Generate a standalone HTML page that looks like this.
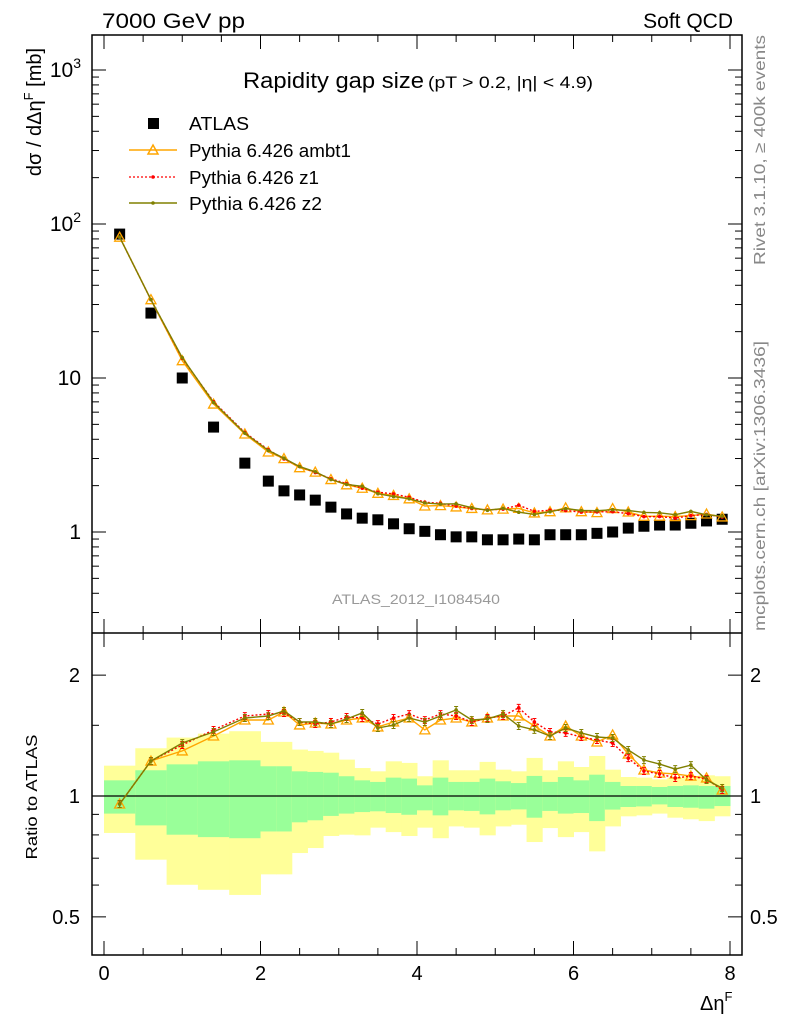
<!DOCTYPE html>
<html><head><meta charset="utf-8">
<style>
html,body{margin:0;padding:0;background:#fff;}
svg{display:block;font-family:"Liberation Sans",sans-serif;}
</style></head>
<body>
<svg id="chart" width="786" height="1024" viewBox="0 0 786 1024" xmlns="http://www.w3.org/2000/svg">
<g id="bands"></g>
<g id="main"></g>
<g id="ratio"></g>
<g id="axes"></g>
<text x="102" y="28" font-size="21" textLength="143" lengthAdjust="spacingAndGlyphs">7000 GeV pp</text>
<text x="733" y="28" font-size="21" text-anchor="end">Soft QCD</text>
<text x="243" y="88" font-size="22" textLength="181" lengthAdjust="spacingAndGlyphs">Rapidity gap size</text>
<text x="428" y="88" font-size="17" textLength="165" lengthAdjust="spacingAndGlyphs">(pT &gt; 0.2, |η| &lt; 4.9)</text>
<text x="416" y="604" font-size="14" fill="#999" text-anchor="middle" textLength="168" lengthAdjust="spacingAndGlyphs">ATLAS_2012_I1084540</text>
<text transform="translate(765,150) rotate(-90)" font-size="16" fill="#888" text-anchor="middle" textLength="230" lengthAdjust="spacingAndGlyphs">Rivet 3.1.10, ≥ 400k events</text>
<text transform="translate(765,486) rotate(-90)" font-size="16" fill="#888" text-anchor="middle" textLength="290" lengthAdjust="spacingAndGlyphs">mcplots.cern.ch [arXiv:1306.3436]</text>
<text transform="translate(41,112) rotate(-90)" font-size="20" text-anchor="middle">dσ / dΔη<tspan font-size="13" dy="-8">F</tspan><tspan dy="8"> [mb]</tspan></text>
<text transform="translate(37,797) rotate(-90)" font-size="16" text-anchor="middle" textLength="125" lengthAdjust="spacingAndGlyphs">Ratio to ATLAS</text>
<text x="700" y="1010" font-size="20">Δη<tspan font-size="13" dy="-9">F</tspan></text>
<g id="legend">
<rect x="148" y="118" width="11" height="11" fill="#000"/>
<text x="189" y="130" font-size="18" textLength="60" lengthAdjust="spacingAndGlyphs">ATLAS</text>
<line x1="129" y1="150" x2="177" y2="150" stroke="#FFA500" stroke-width="1.5"/>
<path d="M153 145 L158 154 L148 154 Z" fill="none" stroke="#FFA500" stroke-width="1.5"/>
<text x="189" y="157" font-size="18" textLength="162" lengthAdjust="spacingAndGlyphs">Pythia 6.426 ambt1</text>
<line x1="129" y1="177" x2="177" y2="177" stroke="#ff0000" stroke-width="1.3" stroke-dasharray="2,2"/>
<circle cx="153" cy="177" r="1.8" fill="#ff0000"/>
<text x="189" y="184" font-size="18" textLength="130" lengthAdjust="spacingAndGlyphs">Pythia 6.426 z1</text>
<line x1="129" y1="203" x2="177" y2="203" stroke="#808000" stroke-width="1.5"/>
<circle cx="153" cy="203" r="1.8" fill="#808000"/>
<text x="189" y="210" font-size="18" textLength="133" lengthAdjust="spacingAndGlyphs">Pythia 6.426 z2</text>
</g>
</svg>
<script>
const xs = [0.2,0.6,1.0,1.4,1.8,2.1,2.3,2.5,2.7,2.9,3.1,3.3,3.5,3.7,3.9,4.1,4.3,4.5,4.7,4.9,5.1,5.3,5.5,5.7,5.9,6.1,6.3,6.5,6.7,6.9,7.1,7.3,7.5,7.7,7.9];
const binEdges = [0,0.4,0.8,1.2,1.6,2.0,2.2,2.4,2.6,2.8,3.0,3.2,3.4,3.6,3.8,4.0,4.2,4.4,4.6,4.8,5.0,5.2,5.4,5.6,5.8,6.0,6.2,6.4,6.6,6.8,7.0,7.2,7.4,7.6,7.8,8.0];
const atlas = [86,26.4,10,4.8,2.8,2.14,1.85,1.74,1.61,1.45,1.31,1.23,1.2,1.13,1.05,1.01,0.96,0.93,0.93,0.89,0.89,0.90,0.89,0.96,0.96,0.96,0.98,1.0,1.06,1.09,1.11,1.11,1.14,1.18,1.21];
const ratioAmbt1 = [0.955,1.222,1.295,1.411,1.546,1.546,1.619,1.503,1.520,1.511,1.546,1.564,1.486,1.529,1.564,1.461,1.546,1.564,1.529,1.564,1.582,1.582,1.494,1.411,1.494,1.411,1.363,1.419,1.272,1.161,1.141,1.135,1.121,1.109,1.035];
const ratioZ1 = [0.955,1.222,1.34,1.461,1.582,1.600,1.610,1.529,1.511,1.529,1.573,1.564,1.511,1.564,1.600,1.546,1.600,1.582,1.529,1.564,1.582,1.658,1.529,1.444,1.436,1.403,1.379,1.355,1.243,1.154,1.135,1.109,1.121,1.102,1.035];
const ratioZ2 = [0.955,1.222,1.355,1.444,1.564,1.582,1.629,1.529,1.529,1.511,1.555,1.610,1.477,1.503,1.564,1.529,1.582,1.638,1.546,1.555,1.600,1.494,1.461,1.411,1.477,1.436,1.403,1.395,1.302,1.229,1.201,1.167,1.194,1.096,1.047];
const yellowHi = [1.19,1.315,1.398,1.43,1.45,1.364,1.364,1.305,1.295,1.282,1.232,1.174,1.152,1.22,1.209,1.12,1.227,1.159,1.159,1.216,1.163,1.152,1.244,1.159,1.22,1.181,1.258,1.163,1.115,1.111,1.1,1.111,1.122,1.126,1.12];
const greenHi = [1.094,1.159,1.199,1.22,1.227,1.186,1.186,1.152,1.148,1.143,1.12,1.094,1.084,1.111,1.105,1.063,1.111,1.084,1.084,1.105,1.088,1.077,1.122,1.084,1.115,1.094,1.13,1.084,1.059,1.059,1.053,1.059,1.063,1.059,1.059];
const greenLo = [0.904,0.845,0.801,0.79,0.785,0.816,0.816,0.86,0.87,0.892,0.904,0.912,0.916,0.907,0.898,0.921,0.895,0.921,0.918,0.9,0.921,0.926,0.883,0.918,0.904,0.907,0.866,0.925,0.939,0.942,0.953,0.939,0.935,0.93,0.944];
const yellowLo = [0.809,0.694,0.601,0.584,0.567,0.638,0.638,0.721,0.742,0.795,0.801,0.798,0.834,0.813,0.795,0.834,0.785,0.84,0.834,0.798,0.84,0.848,0.768,0.832,0.79,0.813,0.728,0.84,0.89,0.895,0.904,0.883,0.875,0.866,0.89];
const mcErr = 0.02;

const NS="http://www.w3.org/2000/svg";
const L=92,R=742,T=35,MB=633,RB=955;
function X(v){return 104+v*78.25;}
function Ym(v){return 532-Math.log10(v)*154;}
function Yr(v){return 796-Math.log10(v)*401.5;}
function mk(tag,attrs,parent){const e=document.createElementNS(NS,tag);for(const k in attrs)e.setAttribute(k,attrs[k]);parent.appendChild(e);return e;}

const bands=document.getElementById('bands');
for(let i=0;i<xs.length;i++){
  const x0=X(binEdges[i]),x1=X(binEdges[i+1]);
  const y=mk('rect',{x:x0,y:Yr(yellowHi[i]),width:x1-x0+0.5,height:Yr(yellowLo[i])-Yr(yellowHi[i]),fill:'#ffff99'},bands);
  
  
  const g=mk('rect',{x:x0,y:Yr(greenHi[i]),width:x1-x0+0.5,height:Yr(greenLo[i])-Yr(greenHi[i]),fill:'#99ff99'},bands);
  
  
}
mk('line',{x1:L,x2:R,y1:Yr(1),y2:Yr(1),stroke:'#000','stroke-width':1.3},bands);

const series=[
 {r:ratioAmbt1,c:'#FFA500',dash:null,name:'ambt1',tri:true},
 {r:ratioZ1,c:'#ff0000',dash:'2,2',name:'z1',tri:false},
 {r:ratioZ2,c:'#808000',dash:null,name:'z2',tri:false}];

const main=document.getElementById('main'),ratio=document.getElementById('ratio');
function drawSeries(parent,ys,s,pre){
  const pts=xs.map((x,i)=>X(x).toFixed(1)+','+ys[i].toFixed(1)).join(' ');
  const pl=mk('polyline',{points:pts,fill:'none',stroke:s.c,'stroke-width':1.4},parent);
  if(s.dash)pl.setAttribute('stroke-dasharray',s.dash);
  
  
  xs.forEach((x,i)=>{
    const cx=X(x),cy=ys[i];
    if(s.tri){
      const p=mk('path',{d:`M${cx} ${cy-5} L${cx+5} ${cy+4} L${cx-5} ${cy+4} Z`,fill:'none',stroke:s.c,'stroke-width':1.3},parent);
      
      
    } else {
      const c=mk('circle',{cx:cx,cy:cy,r:1.8,fill:s.c},parent);
      
      
    }
  });
}
xs.forEach((x,i)=>{
  const r=mk('rect',{x:X(x)-5.5,y:Ym(atlas[i])-5.5,width:11,height:11,fill:'#000'},main);
  
  
});
series.forEach(s=>{
  drawSeries(main,xs.map((x,i)=>Ym(s.r[i]*atlas[i])),s,'main');
  const rg=mk('g',{},ratio);
  if(s.name!=='ambt1'){
    xs.forEach((x,i)=>{
      const a=Yr(s.r[i]*(1+mcErr)),b=Yr(s.r[i]*(1-mcErr)),cx=X(x);
      mk('path',{d:`M${cx} ${a} V${b} M${cx-2} ${a} H${cx+2} M${cx-2} ${b} H${cx+2}`,stroke:s.c,'stroke-width':1,fill:'none'},rg);
    });
  }
  drawSeries(ratio,xs.map((x,i)=>Yr(s.r[i])),s,'ratio');
});

const ax=document.getElementById('axes');
mk('rect',{x:L,y:T,width:R-L,height:RB-T,fill:'none',stroke:'#000','stroke-width':1.5},ax);
mk('line',{x1:L,x2:R,y1:MB,y2:MB,stroke:'#000','stroke-width':1.5},ax);
for(let v=0;v<=8.001;v+=0.5){
  const x=X(v),maj=Math.abs(v-Math.round(v/2)*2)<1e-6,len=maj?14:7;
  [[T,1],[MB,-1],[MB,1],[RB,-1]].forEach(([y0,d])=>mk('line',{x1:x,x2:x,y1:y0,y2:y0+d*len,stroke:'#000','stroke-width':1},ax));
  if(maj){const t=mk('text',{x:x,y:980,'font-size':20,'text-anchor':'middle'},ax);t.textContent=Math.round(v);
    }
}
for(let e=-1;e<=3;e++){
  for(let m=1;m<=9;m++){
    const v=m*Math.pow(10,e),y=Ym(v);
    if(y<T||y>MB)continue;
    const len=m===1?14:7;
    mk('line',{x1:L,x2:L+len,y1:y,y2:y,stroke:'#000','stroke-width':1},ax);
    mk('line',{x1:R,x2:R-len,y1:y,y2:y,stroke:'#000','stroke-width':1},ax);
  }
}
[['1',0],['10',1]].forEach(([s,e])=>{const t=mk('text',{x:81,y:Ym(Math.pow(10,e))+7,'font-size':21,'text-anchor':'end'},ax);t.textContent=s;
  });
[2,3].forEach(e=>{const t=mk('text',{x:81,y:Ym(Math.pow(10,e))+7,'font-size':21,'text-anchor':'end'},ax);
  t.innerHTML='10<tspan font-size="14" dy="-9">'+e+'</tspan>';
  });
const rTicks=[0.5,0.6,0.7,0.8,0.9,1,1.5,2];
rTicks.forEach(v=>{
  const y=Yr(v),maj=(v===0.5||v===1||v===2),len=maj?14:7;
  mk('line',{x1:L,x2:L+len,y1:y,y2:y,stroke:'#000','stroke-width':1},ax);
  mk('line',{x1:R,x2:R-len,y1:y,y2:y,stroke:'#000','stroke-width':1},ax);
  if(maj){
    const a=mk('text',{x:80,y:y+7,'font-size':20,'text-anchor':'end'},ax);a.textContent=v;
    
    const b=mk('text',{x:750,y:y+7,'font-size':20},ax);b.textContent=v;
    
  }
});
</script>
</body></html>
